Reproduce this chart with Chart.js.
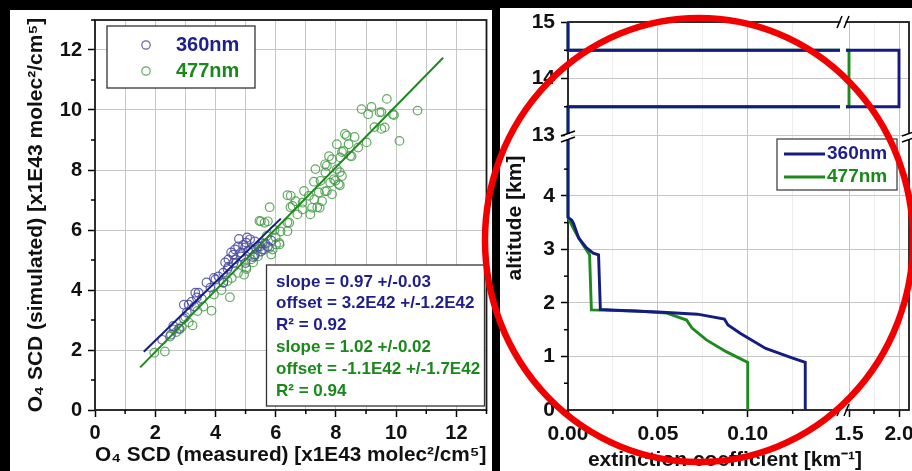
<!DOCTYPE html>
<html>
<head>
<meta charset="utf-8">
<script src="https://cdn.jsdelivr.net/npm/chart.js@4.4.0/dist/chart.umd.min.js"></script>
<style>
  html, body { margin: 0; padding: 0; background: #000; }
  body { width: 912px; height: 471px; position: relative; overflow: hidden; }
  #scatterChart { position: absolute; left: 10px; top: 10px; background: #fff; }
  #rightBg { position: absolute; left: 500px; top: 8px; width: 412px; height: 463px; background: #fff; }
  #profileChart { position: absolute; left: 470px; top: 8px; }
</style>
</head>
<body>
<canvas id="scatterChart" width="482" height="461"></canvas>
<div id="rightBg"></div>
<canvas id="profileChart" width="442" height="463"></canvas>
<script>
// left panel: measured vs simulated O4 SCD [x1E43 molec2/cm5]
const measured360 = [2.23, 2.52, 2.60, 2.79, 2.95, 2.95, 3.05, 3.11, 3.21, 3.30, 3.33, 3.38, 3.44, 3.55, 3.70, 3.83, 3.95, 4.00, 4.10, 4.26,
  4.26, 4.32, 4.40, 4.43, 4.43, 4.52, 4.59, 4.60, 4.65, 4.65, 4.75, 4.85, 4.85, 4.92, 4.98, 5.00, 5.02, 5.08, 5.15, 5.18,
  5.25, 5.31, 5.31, 5.41, 5.48, 5.51, 5.57, 5.65, 5.74, 5.85, 4.78, 5.05];
const simulated360 = [2.34, 2.51, 2.80, 2.71, 3.05, 3.51, 3.25, 3.51, 3.61, 3.45, 3.91, 3.75, 3.91, 3.70, 4.25, 4.08, 4.40, 4.35, 4.45, 4.58,
  4.25, 4.92, 4.70, 5.02, 4.78, 5.25, 5.18, 4.90, 5.35, 5.02, 5.45, 5.25, 5.12, 5.50, 5.42, 4.90, 5.58, 5.30, 5.69, 5.35,
  5.10, 5.62, 5.18, 5.45, 5.45, 5.28, 5.35, 5.55, 5.45, 5.65, 5.70, 5.75];
const measured477 = [1.97, 2.32, 2.49, 2.62, 2.70, 2.82, 2.89, 3.00, 3.11, 3.24, 3.40, 3.60, 3.87, 3.95, 4.20, 4.26, 4.40, 4.48, 4.54, 4.70,
  4.75, 4.95, 5.02, 5.03, 5.10, 5.19, 5.25, 5.30, 5.41, 5.46, 5.51, 5.55, 5.63, 5.63, 5.70, 5.74, 5.79, 5.80, 5.85, 5.90,
  5.96, 6.00, 6.01, 6.12, 6.16, 6.39, 6.39, 6.45, 6.49, 6.39, 6.50, 6.56, 6.66, 6.72, 6.89, 6.89, 6.94, 7.10, 7.15, 7.21,
  7.27, 7.28, 7.32, 7.38, 7.43, 7.46, 7.49, 7.54, 7.64, 7.65, 7.64, 7.70, 7.70, 7.77, 7.81, 7.87, 7.87, 7.93, 7.98, 8.03,
  8.03, 8.09, 8.13, 8.13, 8.14, 8.20, 8.20, 8.25, 8.30, 8.36, 8.42, 8.47, 8.52, 8.62, 8.74, 8.85, 9.02, 9.07, 9.18, 9.28,
  9.45, 9.51, 9.51, 9.62, 9.69, 9.89, 9.93, 10.11, 10.71, 6.13];
const simulated477 = [1.91, 1.95, 2.45, 2.68, 2.60, 2.70, 2.78, 3.10, 2.92, 2.82, 3.30, 3.45, 3.31, 3.85, 4.00, 4.24, 4.30, 3.76, 4.40, 4.90,
  4.57, 4.51, 4.75, 4.70, 5.30, 5.02, 4.92, 5.13, 5.12, 6.30, 6.29, 5.55, 5.35, 6.24, 5.80, 6.29, 5.40, 6.76, 5.18, 5.35,
  6.00, 5.75, 5.52, 5.57, 5.95, 5.96, 6.25, 6.24, 6.76, 7.16, 7.14, 6.80, 6.96, 6.52, 6.91, 6.69, 7.30, 7.14, 6.52, 6.74,
  7.61, 7.02, 8.03, 6.76, 7.25, 6.74, 7.64, 6.96, 7.29, 7.92, 8.19, 8.14, 7.30, 8.46, 7.58, 8.36, 7.19, 7.69, 7.64, 8.03,
  8.86, 7.53, 7.93, 7.49, 8.42, 7.80, 8.60, 8.64, 9.20, 9.14, 8.86, 8.47, 8.46, 9.10, 8.75, 10.03, 8.92, 9.86, 10.10, 9.43,
  9.92, 9.37, 9.93, 9.42, 10.37, 9.86, 9.83, 8.97, 9.98, 5.52];
const fit360X = [1.62, 6.17];
const fit360Y = [1.94, 6.38];
const fit477X = [1.50, 11.56];
const fit477Y = [1.42, 11.74];
const scdTicks = [0, 1, 2, 3, 4, 5, 6, 7, 8, 9, 10, 11, 12, 13];
const scdLabels = ['0', '', '2', '', '4', '', '6', '', '8', '', '10', '', '12', ''];
const seriesNames = ['360nm', '477nm'];
const stats360 = ['slope = 0.97 +/-0.03', 'offset = 3.2E42 +/-1.2E42', 'R² = 0.92'];
const stats477 = ['slope = 1.02 +/-0.02', 'offset = -1.1E42 +/-1.7E42', 'R² = 0.94'];

// right panel: extinction profiles
const ext360 = [0.132, 0.132, 0.125, 0.110, 0.096, 0.089, 0.087, 0.072, 0.050, 0.030, 0.018, 0.017, 0.014, 0.010, 0.006, 0.003, 0.002, 0, 0, 2.0, 2.0, 0, 0];
const alt360 = [0, 0.89, 0.97, 1.15, 1.43, 1.59, 1.70, 1.79, 1.83, 1.86, 1.88, 2.90, 2.93, 3.04, 3.21, 3.49, 3.55, 3.60, 13.5, 13.5, 14.5, 14.5, 15];
const ext477 = [0.100, 0.100, 0.088, 0.077, 0.069, 0.066, 0.055, 0.038, 0.013, 0.012, 0.0085, 0.005, 0.002, 0, 0, 1.5, 1.5, 0, 0];
const alt477 = [0, 0.89, 1.09, 1.31, 1.53, 1.68, 1.81, 1.85, 1.87, 2.90, 3.08, 3.27, 3.46, 3.60, 13.5, 13.5, 14.5, 14.5, 15];
const extLowTicks = [0, 0.025, 0.05, 0.075, 0.1, 0.125];
const extLowLabels = ['0.00', '', '0.05', '', '0.10', ''];
const extHighTicks = [1.5, 1.75, 2.0];
const extHighLabels = ['1.5', '', '2.0'];
const altLowTicks = [0, 0.5, 1, 1.5, 2, 2.5, 3, 3.5, 4, 4.5];
const altLowLabels = ['0', '', '1', '', '2', '', '3', '', '4', ''];
const altHighTicks = [13, 13.5, 14, 14.5, 15];
const altHighLabels = ['13', '', '14', '', '15'];

const FONT = '"Liberation Sans", Arial, sans-serif';
const GRID = '#c6c6c6';
const GRID_MINOR = '#ededed';
const NONE = 'rgba(0,0,0,0)';
const lineColors = ['#141c82', '#1d8a1d'];
const markerColors = ['rgba(72,72,160,0.85)', 'rgba(70,155,70,0.85)'];
const textColors = ['#1f1f8c', '#1b881b'];

Chart.defaults.font.family = FONT;
Chart.defaults.font.weight = 'bold';
Chart.defaults.font.size = 20;
Chart.defaults.color = '#111';

function toPoints(xs, ys) {
  return xs.map((x, i) => ({ x, y: ys[i] }));
}

function fixedTicksScale(values, labels, opts) {
  const horizontal = opts.position === 'bottom';
  return {
    type: 'linear',
    position: opts.position,
    min: opts.min,
    max: opts.max,
    stack: opts.stack,
    stackWeight: opts.stackWeight,
    afterBuildTicks: (scale) => {
      scale.ticks = values.map((value) => ({ value }));
    },
    afterFit: (scale) => {
      if (horizontal) scale.height = opts.size;
      else scale.width = opts.size;
      scale.paddingLeft = 0;
      scale.paddingRight = 0;
      scale.paddingTop = 0;
      scale.paddingBottom = 0;
    },
    ticks: {
      autoSkip: false,
      maxRotation: 0,
      minRotation: 0,
      padding: opts.padding,
      color: '#111',
      font: { size: opts.fontSize, weight: 'bold' },
      callback: (value, index) => labels[index],
    },
    grid: {
      tickLength: 7,
      lineWidth: 1,
      tickWidth: 1.5,
      color: (ctx) => opts.gridColor(ctx.index),
      tickColor: (ctx) => (labels[ctx.index] ? '#000' : NONE),
    },
    border: { display: false },
    title: opts.title || { display: false },
  };
}

// short ticks for the unlabelled values
const minorTicks = {
  id: 'minorTicks',
  afterDraw(chart) {
    const ctx = chart.ctx;
    ctx.save();
    ctx.strokeStyle = '#000';
    ctx.lineWidth = 1.5;
    for (const scale of Object.values(chart.scales)) {
      for (const t of scale.ticks) {
        if (t.label !== '') continue;
        const p = scale.getPixelForValue(t.value);
        ctx.beginPath();
        if (scale.isHorizontal()) {
          ctx.moveTo(p, scale.top);
          ctx.lineTo(p, scale.top + 4);
        } else {
          ctx.moveTo(scale.right, p);
          ctx.lineTo(scale.right - 4, p);
        }
        ctx.stroke();
      }
    }
    ctx.restore();
  },
};

const frame = {
  id: 'frame',
  beforeDatasetsDraw(chart) {
    const { ctx, chartArea: a } = chart;
    ctx.save();
    ctx.strokeStyle = '#1a1a1a';
    ctx.lineWidth = 1.8;
    ctx.strokeRect(a.left, a.top, a.right - a.left, a.bottom - a.top);
    ctx.restore();
  },
};

const scatterLegend = {
  id: 'scatterLegend',
  afterDatasetsDraw(chart) {
    const { ctx, chartArea: a } = chart;
    const x = a.left + 12;
    const y = a.top + 6;
    ctx.save();
    ctx.fillStyle = '#fff';
    ctx.fillRect(x, y, 148, 62);
    ctx.strokeStyle = '#333';
    ctx.lineWidth = 1.3;
    ctx.strokeRect(x, y, 148, 62);
    ctx.font = `bold 20px ${FONT}`;
    ctx.textBaseline = 'middle';
    seriesNames.forEach((name, i) => {
      const cy = y + 19 + i * 26;
      ctx.beginPath();
      ctx.arc(x + 39, cy, 4.2, 0, Math.PI * 2);
      ctx.strokeStyle = markerColors[i];
      ctx.lineWidth = 1.2;
      ctx.stroke();
      ctx.fillStyle = textColors[i];
      ctx.fillText(name, x + 69, cy);
    });
    ctx.restore();
  },
};

const fitStats = {
  id: 'fitStats',
  afterDatasetsDraw(chart) {
    const { ctx, chartArea: a } = chart;
    const x = a.right - 220;
    const y = a.bottom - 145;
    ctx.save();
    ctx.fillStyle = '#fff';
    ctx.fillRect(x, y, 218, 141);
    ctx.strokeStyle = '#333';
    ctx.lineWidth = 1.3;
    ctx.strokeRect(x, y, 218, 141);
    ctx.font = `bold 17px ${FONT}`;
    ctx.textBaseline = 'middle';
    const rows = [...stats360.map((t) => [t, textColors[0]]), ...stats477.map((t) => [t, textColors[1]])];
    const offsets = [17, 38, 60, 82, 104, 126];
    rows.forEach(([text, color], i) => {
      ctx.fillStyle = color;
      ctx.fillText(text, x + 9.5, y + offsets[i]);
    });
    ctx.restore();
  },
};

new Chart(document.getElementById('scatterChart'), {
  type: 'scatter',
  data: {
    datasets: [
      { label: 'fit 360nm', data: toPoints(fit360X, fit360Y), showLine: true, borderColor: lineColors[0], borderWidth: 2, pointRadius: 0, order: 0 },
      { label: 'fit 477nm', data: toPoints(fit477X, fit477Y), showLine: true, borderColor: lineColors[1], borderWidth: 2, pointRadius: 0, order: 0 },
      { label: seriesNames[0], data: toPoints(measured360, simulated360), borderColor: markerColors[0], backgroundColor: NONE, borderWidth: 1.2, pointRadius: 4.3, order: 1 },
      { label: seriesNames[1], data: toPoints(measured477, simulated477), borderColor: markerColors[1], backgroundColor: NONE, borderWidth: 1.2, pointRadius: 4.3, order: 2 },
    ],
  },
  options: {
    responsive: false,
    animation: false,
    events: [],
    layout: { padding: { left: 0, top: 10, right: 1, bottom: 0 } },
    plugins: { legend: { display: false }, tooltip: { enabled: false } },
    scales: {
      x: fixedTicksScale(scdTicks, scdLabels, {
        position: 'bottom', min: 0, max: 13, size: 61, padding: 4, fontSize: 20,
        gridColor: () => GRID,
        title: { display: true, text: 'O₄ SCD (measured) [x1E43 molec²/cm⁵]', color: '#111', font: { size: 21, weight: 'bold' }, padding: { top: 0, bottom: 3 } },
      }),
      y: fixedTicksScale(scdTicks, scdLabels, {
        position: 'left', min: 0, max: 13, size: 85, padding: 6, fontSize: 20,
        gridColor: (i) => (scdLabels[i] ? GRID : NONE),
        title: { display: true, text: 'O₄ SCD (simulated) [x1E43 molec²/cm⁵]', color: '#111', font: { size: 21, weight: 'bold' }, padding: { top: 14, bottom: 0 } },
      }),
    },
  },
  plugins: [frame, scatterLegend, fitStats, minorTicks],
});

// keep each dataset inside its own piece of the broken axes
const segmentClip = {
  id: 'segmentClip',
  beforeDatasetDraw(chart, args) {
    const { xScale, yScale } = args.meta;
    const a = chart.chartArea;
    const gap = 3;
    const out = 5;
    const left = xScale.left <= a.left + 1 ? xScale.left - out : xScale.left + gap;
    const right = xScale.right >= a.right - 1 ? xScale.right + out : xScale.right - gap;
    const top = yScale.top <= a.top + 1 ? yScale.top - out : yScale.top + gap;
    const bottom = yScale.bottom >= a.bottom - 1 ? yScale.bottom + out : yScale.bottom - gap;
    const ctx = chart.ctx;
    ctx.save();
    ctx.beginPath();
    ctx.rect(left, top, right - left, bottom - top);
    ctx.clip();
  },
  afterDatasetDraw(chart) {
    chart.ctx.restore();
  },
};

function breakMark(ctx, x, y, onVerticalAxis) {
  ctx.save();
  ctx.fillStyle = '#fff';
  ctx.strokeStyle = '#000';
  ctx.lineWidth = 1.5;
  ctx.beginPath();
  if (onVerticalAxis) {
    ctx.fillRect(x - 3, y - 3, 6, 5);
    ctx.moveTo(x - 7, y - 1);
    ctx.lineTo(x + 7, y - 6);
    ctx.moveTo(x - 7, y + 5);
    ctx.lineTo(x + 7, y);
  } else {
    ctx.fillRect(x - 2.5, y - 3, 5, 6);
    ctx.moveTo(x - 6, y + 6);
    ctx.lineTo(x - 1, y - 6);
    ctx.moveTo(x + 1, y + 6);
    ctx.lineTo(x + 6, y - 6);
  }
  ctx.stroke();
  ctx.restore();
}

const axisBreaks = {
  id: 'axisBreaks',
  afterDatasetsDraw(chart) {
    const { ctx, chartArea: a, scales } = chart;
    const bx = scales.xLow.right;
    const by = scales.yHigh.bottom;
    breakMark(ctx, a.left, by, true);
    breakMark(ctx, a.right, by, true);
    breakMark(ctx, bx, a.top, false);
    breakMark(ctx, bx, a.bottom, false);
  },
};

const profileLegend = {
  id: 'profileLegend',
  afterDatasetsDraw(chart) {
    const { ctx, chartArea: a } = chart;
    const x = a.right - 132;
    const y = a.top + 117;
    ctx.save();
    ctx.fillStyle = '#fff';
    ctx.fillRect(x, y, 120, 51);
    ctx.strokeStyle = '#444';
    ctx.lineWidth = 1.3;
    ctx.strokeRect(x, y, 120, 51);
    ctx.font = `bold 19px ${FONT}`;
    ctx.textBaseline = 'middle';
    seriesNames.forEach((name, i) => {
      const cy = y + 15 + i * 23;
      ctx.beginPath();
      ctx.moveTo(x + 7, cy);
      ctx.lineTo(x + 48, cy);
      ctx.strokeStyle = lineColors[i];
      ctx.lineWidth = 2.8;
      ctx.stroke();
      ctx.fillStyle = textColors[i];
      ctx.fillText(name, x + 50, cy);
    });
    ctx.restore();
  },
};

const profileTitles = {
  id: 'profileTitles',
  afterDraw(chart) {
    const { ctx, chartArea: a } = chart;
    ctx.save();
    ctx.fillStyle = '#111';
    ctx.font = `bold 21px ${FONT}`;
    ctx.textAlign = 'center';
    ctx.textBaseline = 'middle';
    ctx.fillText('extinction coefficient [km⁻¹]', a.left + 157, a.bottom + 50);
    ctx.translate(a.left - 53, (a.top + a.bottom) / 2 + 2);
    ctx.rotate(-Math.PI / 2);
    ctx.fillText('altitude [km]', 0, 0);
    ctx.restore();
  },
};

const redEllipse = {
  id: 'redEllipse',
  afterDraw(chart) {
    const ctx = chart.ctx;
    ctx.save();
    ctx.strokeStyle = '#f20000';
    ctx.lineWidth = 6.5;
    ctx.beginPath();
    ctx.ellipse(229, 232, 214, 222, 0, 0, Math.PI * 2);
    ctx.stroke();
    ctx.restore();
  },
};

const pieces = [['xLow', 'yLow'], ['xHigh', 'yLow'], ['xLow', 'yHigh'], ['xHigh', 'yHigh']];
const profiles = [toPoints(ext360, alt360), toPoints(ext477, alt477)];
const profileDatasets = [];
profiles.forEach((points, s) => {
  for (const [xId, yId] of pieces) {
    profileDatasets.push({
      label: seriesNames[s],
      data: points,
      xAxisID: xId,
      yAxisID: yId,
      showLine: true,
      borderColor: lineColors[s],
      borderWidth: 2.9,
      pointRadius: 0,
      clip: 6,
    });
  }
});

new Chart(document.getElementById('profileChart'), {
  type: 'scatter',
  data: { datasets: profileDatasets },
  options: {
    responsive: false,
    animation: false,
    events: [],
    layout: { padding: { left: 38, top: 14, right: 3, bottom: 0 } },
    plugins: { legend: { display: false }, tooltip: { enabled: false } },
    scales: {
      xLow: fixedTicksScale(extLowTicks, extLowLabels, {
        position: 'bottom', min: 0, max: 0.153, stack: 'ext', stackWeight: 275, size: 61, padding: 5, fontSize: 21,
        gridColor: (i) => (extLowLabels[i] ? GRID : GRID_MINOR),
      }),
      xHigh: fixedTicksScale(extHighTicks, extHighLabels, {
        position: 'bottom', min: 1.44, max: 2.1, stack: 'ext', stackWeight: 66, size: 61, padding: 5, fontSize: 21,
        gridColor: (i) => (extHighLabels[i] ? GRID : GRID_MINOR),
      }),
      yLow: fixedTicksScale(altLowTicks, altLowLabels, {
        position: 'left', min: 0, max: 5.1, stack: 'alt', stackWeight: 273, size: 60, padding: 6, fontSize: 21,
        gridColor: (i) => (altLowLabels[i] ? GRID : NONE),
      }),
      yHigh: fixedTicksScale(altHighTicks, altHighLabels, {
        position: 'left', min: 12.965, max: 15, stack: 'alt', stackWeight: 115, size: 60, padding: 6, fontSize: 21,
        gridColor: (i) => (altHighLabels[i] ? GRID : NONE),
      }),
    },
  },
  plugins: [segmentClip, frame, axisBreaks, profileLegend, minorTicks, profileTitles, redEllipse],
});
</script>
</body>
</html>
